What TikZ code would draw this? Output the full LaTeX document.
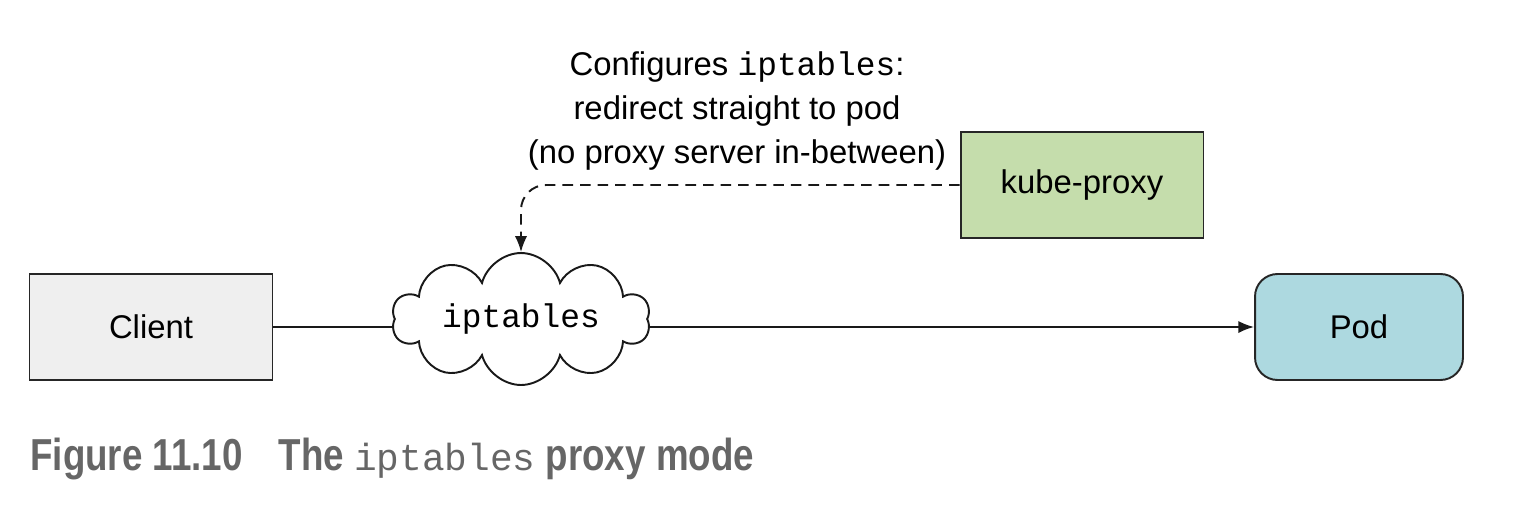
\documentclass[tikz,border=0pt]{standalone}
\usepackage{fontspec}
\setmainfont{Liberation Sans}
\setmonofont{Liberation Mono}
\newfontfamily\capfont[FakeStretch=0.82]{Liberation Sans}
\usepackage{xcolor}
\usepackage{tikz}
\usetikzlibrary{arrows.meta}
\usetikzlibrary{shapes.symbols}
\definecolor{clientgray}{HTML}{EFEFEF}
\definecolor{kubegreen}{HTML}{C5DDAC}
\definecolor{podblue}{HTML}{ADD9E0}
\definecolor{capgray}{HTML}{666666}
\tikzset{
    tnode/.style = {align=center, inner sep=0pt, text centered, font=\fontsize{18.7}{25}\selectfont},
    box/.style = {tnode, rectangle, draw=black!85, line width=1.1pt, minimum width=4.86cm, minimum height=2.12cm},
    client_node/.style = {box, fill=clientgray},
    kube_node/.style = {box, fill=kubegreen},
    pod_node/.style = {box, fill=podblue, rounded corners=0.45cm, minimum width=4.16cm},
    cloud_node/.style = {tnode, cloud, cloud puffs=10, cloud ignores aspect, draw=black!90, fill=white, line width=1.1pt, minimum width=5.16cm, minimum height=2.64cm, font=\ttfamily\fontsize{18.7}{25}\selectfont},
    link/.style = {draw=black!90, line width=1.1pt},
    tip/.style = {-{Latex[length=9pt,width=7pt]}}
}

\begin{document}
\begin{tikzpicture}
            [x=0.02cm, y=-0.02cm]

            \useasboundingbox (0,0) rectangle (1518,524);

            % boxes
            \node [client_node] (client) at (151,327) {Client};
            \node [cloud_node] (ipt) at (521,319) {iptables};
            \node [kube_node] (kube) at (1082,185) {kube-proxy};
            \node [pod_node] (pod) at (1359,327) {Pod};

            % note
            \node [tnode] (note) at (737,111)
                {Configures \texttt{iptables}:\\ redirect straight to pod\\ (no proxy server in-between)};

            % connectors
            \draw [link] (client.east) -- (client.east -| ipt.west);
            \draw [link, tip] (pod.west -| ipt.east) -- (pod.west);
            \draw [link, tip, dashed, dash pattern=on 6pt off 4pt, rounded corners=0.5cm] (kube.west) -| (ipt.north);

            % caption
            \node [anchor=base west, inner sep=0pt, text=capgray] (caption) at (30,470)
                {\capfont\bfseries\fontsize{25.5}{28}\selectfont Figure 11.10\hspace{0.72cm}The \texttt{\mdseries\fontsize{21.5}{28}\selectfont iptables} proxy mode};
\end{tikzpicture}
\end{document}
